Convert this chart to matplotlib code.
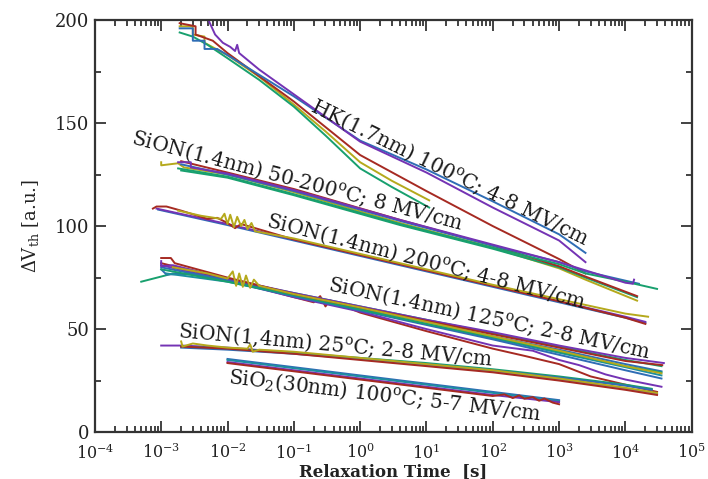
import matplotlib
matplotlib.use("Agg")
import matplotlib.pyplot as plt
from matplotlib.ticker import LogLocator, MultipleLocator, NullFormatter

plt.rcParams['font.family'] = 'DejaVu Serif'
plt.rcParams['mathtext.fontset'] = 'dejavuserif'

col = {'blue': '#2f6db5', 'red': '#a62a22', 'olive': '#b5a91c',
       'green': '#18a06e', 'purple': '#7433b4', 'teal': '#1d8fa0'}

# HK(1.7nm) 100C
hk_lines = [
    ('olive', [(1.9e-3, 197), (3e-3, 197), (3e-3, 193), (4.5e-3, 192), (4.5e-3, 189), (1e-2, 183),
               (3e-2, 172.5), (0.1, 159), (0.3, 146), (1, 131), (3, 122), (11, 112.5)]),
    ('green', [(1.9e-3, 194), (3e-3, 192), (5e-3, 188), (1e-2, 181.5), (3e-2, 171), (0.1, 158),
               (0.3, 144), (1, 128), (3, 119), (11, 109)]),
    ('red', [(1.9e-3, 198.5), (3.3e-3, 197), (3.3e-3, 193), (6e-3, 190), (1e-2, 184), (0.1, 160.5),
             (1, 134.5), (10, 117), (100, 100), (1e3, 84), (2.5e3, 77)]),
    ('blue', [(1.9e-3, 196), (3e-3, 196), (3e-3, 190), (4.5e-3, 190), (4.5e-3, 186), (7e-3, 186),
              (1e-2, 183), (0.1, 163), (1, 141.5), (10, 127.5), (100, 112), (1e3, 96), (2.5e3, 87)]),
    ('purple', [(5e-3, 201), (6.5e-3, 193), (8.5e-3, 189), (1.1e-2, 187), (1.3e-2, 185), (1.4e-2, 188),
                (1.5e-2, 184), (3e-2, 176), (0.1, 164), (1, 141), (10, 126), (100, 109), (1e3, 93),
                (2.5e3, 82.5)]),
]

# SiON(1.4nm) 50-200C; 8 MV/cm
sion50_lines = [
    ('olive', [(1e-3, 131), (1e-3, 129.5), (1.8e-3, 130.5), (2.2e-3, 128.5), (1e-2, 125), (0.1, 116.5),
               (4, 101.5), (100, 89.5), (1e3, 79.5), (2.5e3, 74), (1.5e4, 63.8)]),
    ('green', [(2e-3, 127), (1e-2, 123.5), (0.1, 115), (4, 100.5), (100, 89), (1e3, 80), (2.5e3, 75),
               (1.5e4, 65.5)]),
    ('red', [(2e-3, 131.5), (1e-2, 126), (0.1, 118), (4, 103), (100, 90.5), (1e3, 80.5), (2.5e3, 75.5),
             (1.5e4, 66)]),
    ('blue', [(2e-3, 130), (1e-2, 125), (0.1, 117), (4, 102.5), (100, 90.5), (1e3, 82.5), (2.5e3, 78),
              (1e4, 73.5), (1.6e4, 72)]),
    ('green', [(1.8e-3, 128), (1e-2, 124), (0.1, 115.5), (4, 101), (100, 89.5), (1e3, 81.5), (2.5e3, 77),
               (1e4, 73), (3e4, 69.5)]),
    ('purple', [(1.8e-3, 131), (2.8e-3, 131), (2.8e-3, 128.5), (1e-2, 125.5), (0.1, 117.5), (4, 103),
                (100, 91), (1e3, 82.5), (2.5e3, 78.5), (1e4, 72.5), (1.3e4, 72), (1.35e4, 74)]),
]

# SiON(1.4nm) 200C; 4-8 MV/cm
sion200_lines = [
    ('blue', [(9e-4, 108), (1e-2, 100.5), (0.1, 93), (1, 85.5), (10, 78), (100, 70.5), (1e3, 63),
              (1e4, 55.5), (2e4, 53)]),
    ('purple', [(8.5e-4, 108.5), (1e-2, 101), (0.1, 93.5), (1, 86), (10, 78.5), (100, 71), (1e3, 63.5),
                (1e4, 56), (2e4, 53.5)]),
    ('red', [(7.5e-4, 108.5), (8.5e-4, 109.5), (1.2e-3, 109.5), (2e-3, 107.5), (5e-3, 103.5), (7e-3, 104),
             (1e-2, 101.5), (1.3e-2, 99), (1.6e-2, 101), (0.1, 93.5), (1, 86), (10, 78.5), (100, 71),
             (1e3, 63.5), (1e4, 55.5), (2e4, 52.5)]),
    ('olive', [(1.8e-3, 107.5), (4e-3, 105), (8e-3, 103.5), (9e-3, 106), (1e-2, 101), (1.1e-2, 105.5),
               (1.25e-2, 99.5), (1.4e-2, 104.5), (1.6e-2, 100), (1.8e-2, 103), (2e-2, 98.5), (2.3e-2, 101.5),
               (2.6e-2, 97.5), (0.1, 94), (1, 86.5), (10, 79), (100, 71.5), (1e3, 64.5), (1e4, 57.5),
               (2.2e4, 56)]),
]

# SiON(1.4nm) 125C; 2-8 MV/cm
sion125_lines = [
    ('red', [(1e-3, 82), (1e-2, 74), (0.1, 65.5), (0.2, 63), (0.25, 66), (0.3, 61), (0.35, 64), (1, 58),
             (10, 49), (100, 40.5), (300, 37), (1e3, 33), (3e3, 27), (1e4, 23), (3e4, 19.5)]),
    ('purple', [(1e-3, 81), (1e-2, 73.5), (0.1, 65.5), (1, 58.5), (10, 50), (100, 42), (400, 39.5),
                (1e3, 35), (2e3, 32.5), (5e3, 28), (1e4, 25.5), (3.5e4, 22)]),
    ('green', [(5e-4, 73), (1e-3, 75.5), (1.5e-3, 77), (3e-3, 76.5), (1e-2, 74), (0.1, 67.5), (1, 61),
               (10, 54.5), (100, 48), (1e3, 41.5), (1e4, 35), (3.5e4, 32)]),
    ('blue', [(1e-3, 79), (1.2e-3, 76.5), (3e-3, 77), (1e-2, 73.5), (0.1, 66.5), (1, 60), (10, 53.5),
              (100, 46.5), (1e3, 40), (1e4, 33), (3.5e4, 29.5)]),
    ('teal', [(1.2e-3, 77), (1e-2, 73), (0.1, 66), (1, 59.5), (10, 52.5), (100, 45.5), (1e3, 38.5),
              (1e4, 31.5), (3.5e4, 27.5)]),
    ('blue', [(1e-3, 80), (1e-2, 73.5), (0.1, 66), (1, 59), (10, 52), (100, 45), (1e3, 37.5), (1e4, 30),
              (3.5e4, 26)]),
    ('green', [(1e-3, 79), (1e-2, 73), (0.1, 66.5), (1, 59.5), (10, 52.5), (100, 46), (1e3, 39), (1e4, 32),
               (3.5e4, 29)]),
    ('purple', [(1e-3, 83), (1e-3, 80.5), (1.5e-3, 81), (1e-2, 74.5), (0.1, 67.5), (1, 61), (10, 54.5),
                (100, 48.5), (1e3, 42), (1e4, 36), (3.8e4, 33.5)]),
    ('red', [(1e-3, 84.5), (1.4e-3, 84.5), (1.6e-3, 82), (1e-2, 75), (0.1, 67), (1, 60.5), (10, 54),
             (100, 47.5), (1e3, 41), (1e4, 34.5), (3.6e4, 32.5)]),
    ('olive', [(1.5e-3, 80), (5e-3, 77), (1e-2, 74.5), (1.2e-2, 78), (1.35e-2, 71), (1.5e-2, 77),
               (1.7e-2, 70.5), (1.9e-2, 76), (2.2e-2, 70), (2.5e-2, 74), (3e-2, 71), (0.1, 67), (1, 60.5),
               (10, 53.5), (100, 46.5), (1e3, 39.5), (1e4, 32), (3.5e4, 28.5)]),
]

# SiON(1,4nm) 25C; 2-8 MV/cm
sion25_lines = [
    ('purple', [(1e-3, 42), (2e-3, 42), (1e-2, 41), (0.1, 38.5), (1, 35.5), (10, 32.5), (100, 29.5),
                (1e3, 25.5), (1e4, 21), (3e4, 18.5)]),
    ('green', [(2e-3, 41.5), (1e-2, 40.5), (0.1, 38.5), (1, 36), (10, 33.5), (100, 30.5), (1e3, 27),
               (1e4, 23), (2.5e4, 21)]),
    ('blue', [(2e-3, 41), (1e-2, 40), (0.1, 38), (1, 35.5), (10, 33), (100, 30), (1e3, 26.5), (1e4, 22.5),
              (2.5e4, 20.5)]),
    ('red', [(2e-3, 41.5), (1e-2, 40.5), (0.1, 38), (1, 35), (10, 32), (100, 29), (1e3, 25), (1e4, 20.5),
             (3e4, 18)]),
    ('olive', [(2e-3, 44), (2.1e-3, 41.5), (3e-3, 43), (5e-3, 42), (1e-2, 41), (2e-2, 40.5), (2.2e-2, 42.5),
               (2.4e-2, 39), (3e-2, 40), (0.1, 39), (1, 36), (10, 33), (100, 30), (1e3, 26), (1e4, 21.5),
               (3e4, 19)]),
]

# SiO2(30nm) 100C; 5-7 MV/cm
sio2_lines = [
    ('blue', [(1e-2, 35.5), (0.1, 31.5), (1, 27.5), (10, 23.5), (100, 19.5), (1e3, 15.5)]),
    ('teal', [(1e-2, 35), (0.1, 31), (1, 27), (10, 23), (100, 19), (1e3, 15)]),
    ('purple', [(1e-2, 34), (0.1, 30), (1, 26), (10, 22), (100, 18), (1e3, 14.5)]),
    ('red', [(1e-2, 33.5), (0.1, 29.5), (1, 25.5), (10, 21.5), (100, 17.5), (150, 18.3), (200, 16.5),
             (250, 17.8), (300, 16.2), (400, 17), (500, 15.2), (600, 16.3), (800, 14.3), (1e3, 13.5)]),
]

groups = [hk_lines, sion50_lines, sion200_lines, sion125_lines, sion25_lines, sio2_lines]

# labels: text, start (t, value), angle in degrees
labels = [
    (r'HK(1.7nm) 100$^{\mathrm{o}}$C; 4-8 MV/cm', 0.174, 156.3, -26.1),
    (r'SiON(1.4nm) 50-200$^{\mathrm{o}}$C; 8 MV/cm', 3.4e-4, 140.3, -14.7),
    (r'SiON(1.4nm) 200$^{\mathrm{o}}$C; 4-8 MV/cm', 0.0366, 100.0, -14.5),
    (r'SiON(1.4nm) 125$^{\mathrm{o}}$C; 2-8 MV/cm', 0.315, 68.9, -12.0),
    (r'SiON(1,4nm) 25$^{\mathrm{o}}$C; 2-8 MV/cm', 1.78e-3, 46.1, -5.2),
    (r'SiO$_2$(30nm) 100$^{\mathrm{o}}$C; 5-7 MV/cm', 0.0101, 23.8, -6.8),
]

fig = plt.figure(figsize=(7.08, 4.79), dpi=100)
ax = fig.add_axes([0.134, 0.098, 0.843, 0.860])

for grp in groups:
    for c, pts in grp:
        ax.plot([p[0] for p in pts], [p[1] for p in pts], color=col[c], lw=1.4)

for txt, t, v, ang in labels:
    ax.text(t, v, txt, rotation=ang, rotation_mode='anchor', ha='left', va='baseline',
            fontsize=14.5, color='#1a1a1a')

ax.set_xscale('log')
ax.set_xlim(1e-4, 1e5)
ax.set_ylim(0, 200)
ax.xaxis.set_major_locator(LogLocator(base=10, numticks=20))
ax.xaxis.set_minor_locator(LogLocator(base=10, subs=range(2, 10), numticks=20))
ax.xaxis.set_minor_formatter(NullFormatter())
ax.yaxis.set_major_locator(MultipleLocator(50))
ax.yaxis.set_minor_locator(MultipleLocator(25))

ax.tick_params(which='both', direction='in', top=True, right=True, width=1.2, colors='#222222')
ax.tick_params(which='major', length=8)
ax.tick_params(which='minor', length=4)
ax.tick_params(axis='x', pad=8, labelsize=11.5)
ax.tick_params(axis='y', pad=4, labelsize=13)
for s in ax.spines.values():
    s.set_linewidth(1.6)
    s.set_color('#333333')

ax.set_xlabel('Relaxation Time  [s]', fontsize=12, fontweight='bold', color='#222222')
ax.set_ylabel(r'$\Delta$V$_{\mathrm{th}}$ [a.u.]', fontsize=13, color='#222222')
ax.xaxis.set_label_coords(0.5, -0.074)
ax.yaxis.set_label_coords(-0.09, 0.5)

fig.savefig('out.png', dpi=100)
